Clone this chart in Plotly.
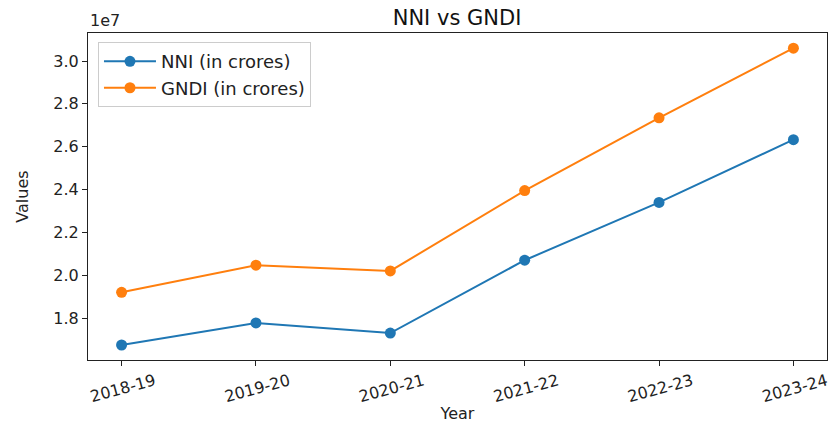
import plotly.graph_objects as go

years = ["2018-19", "2019-20", "2020-21", "2021-22", "2022-23", "2023-24"]
nni = [16740000, 17770000, 17300000, 20700000, 23400000, 26330000]
gndi = [19200000, 20470000, 20200000, 23950000, 27350000, 30600000]
ytick_vals = [18000000, 20000000, 22000000, 24000000, 26000000, 28000000, 30000000]
ytick_text = ["1.8", "2.0", "2.2", "2.4", "2.6", "2.8", "3.0"]

blue = "#1f77b4"
orange = "#ff7f0e"
font = "DejaVu Sans"

fig = go.Figure()
fig.add_trace(go.Scatter(x=list(range(len(years))), y=nni, mode="lines+markers",
                         name="NNI (in crores)", line=dict(color=blue, width=2),
                         marker=dict(size=11, color=blue)))
fig.add_trace(go.Scatter(x=list(range(len(years))), y=gndi, mode="lines+markers",
                         name="GNDI (in crores)", line=dict(color=orange, width=2),
                         marker=dict(size=11, color=orange)))

fig.update_layout(
    width=834, height=425,
    margin=dict(l=88, r=7, t=33, b=65),
    paper_bgcolor="white", plot_bgcolor="white",
    font=dict(family=font, size=16, color="#222"),
    title=dict(text="NNI vs GNDI", x=0.548, xanchor="center", y=0.958, yanchor="middle",
               font=dict(size=21, color="#111")),
    showlegend=True,
    legend=dict(x=0.0135, y=0.972, xanchor="left", yanchor="top",
                bordercolor="#cccccc", borderwidth=1, bgcolor="rgba(255,255,255,0.8)",
                font=dict(size=18, color="#222"), itemwidth=52),
    xaxis=dict(range=[-0.25, 5.25], tickmode="array", tickvals=list(range(len(years))),
               ticktext=years, tickangle=-15, showgrid=False, zeroline=False,
               showline=True, linecolor="#222", linewidth=1, mirror=True,
               ticks="outside", ticklen=5, tickcolor="#222", automargin=False,
               ticklabelshift=33, tickfont=dict(size=16),
               title=dict(text="Year", font=dict(size=16), standoff=2)),
    yaxis=dict(range=[16040000, 31310000], tickmode="array", tickvals=ytick_vals,
               ticktext=ytick_text, showgrid=False, zeroline=False,
               showline=True, linecolor="#222", linewidth=1, mirror=True,
               ticks="outside", ticklen=5, tickcolor="#222", automargin=False,
               tickfont=dict(size=16),
               title=dict(text="Values", font=dict(size=16), standoff=20)),
)
fig.add_annotation(text="1e7", xref="paper", yref="paper", x=0.0, y=1.0,
                   xanchor="left", yanchor="bottom", showarrow=False,
                   font=dict(size=16, color="#222"), yshift=1)

fig.write_html("out.html", config={"displayModeBar": False},
               post_script="document.body.style.margin='0px';")
